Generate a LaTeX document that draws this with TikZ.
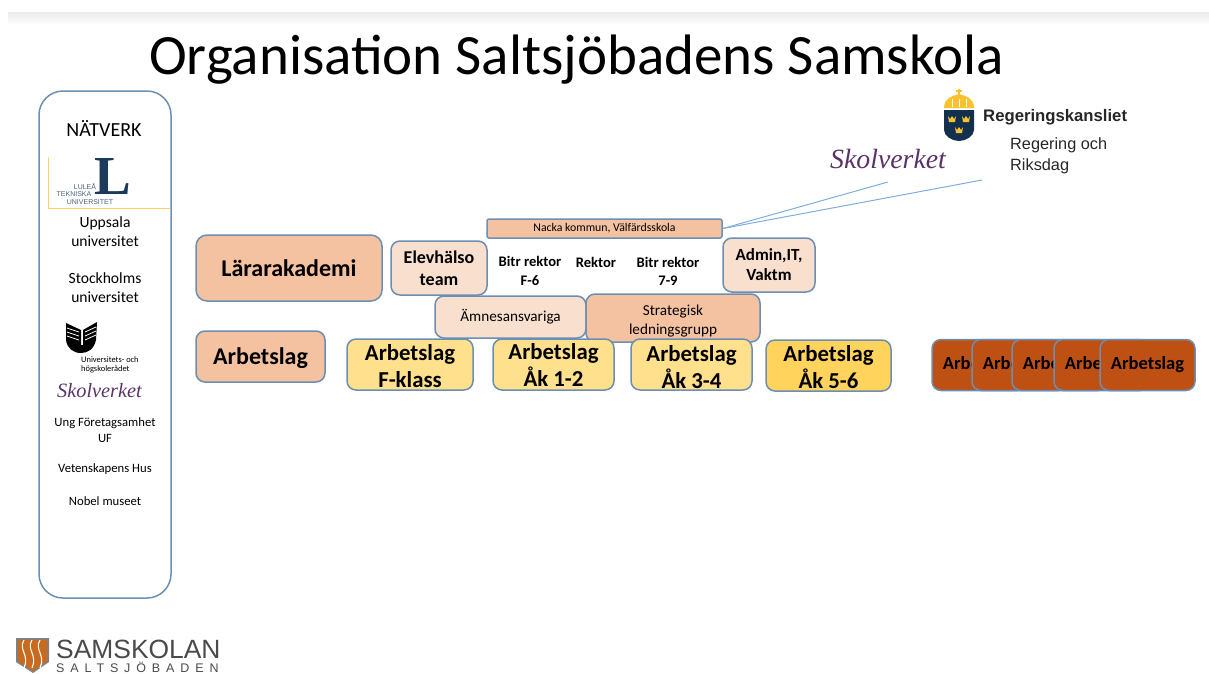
\documentclass[tikz,border=0pt]{standalone}
\usepackage{fontspec}
\setmainfont{Carlito}
\newfontfamily\logofont{Liberation Sans}
\newfontfamily\skolfont{Liberation Serif}
\usetikzlibrary{positioning}
\newcommand{\drop}[1]{\rule{0pt}{#1pt}}
\definecolor{edgeblue}{HTML}{6B8FB4}
\definecolor{lineblue}{HTML}{7FAEDC}
\definecolor{peach}{HTML}{F4C2A1}
\definecolor{lightpeach}{HTML}{F9DFCE}
\definecolor{paleyellow}{HTML}{FFE08C}
\definecolor{deepyellow}{HTML}{FFD35C}
\definecolor{rust}{HTML}{BE5014}
\definecolor{skolpurple}{HTML}{5A3268}
\definecolor{ltublue}{HTML}{1B3A5C}
\definecolor{crown}{HTML}{F9C22E}
\definecolor{shieldblue}{HTML}{14304F}
\definecolor{samorange}{HTML}{C96A1E}
\definecolor{samgray}{HTML}{4A4A4A}
\tikzset{
  box/.style={draw=edgeblue,line width=1.5pt,rounded corners=9pt,align=center,inner sep=0pt},
  huge/.style={font=\fontsize{24}{27}\selectfont\bfseries},
  big/.style={font=\fontsize{22.8}{27}\selectfont\bfseries},
  lesser/.style={font=\fontsize{18}{22}\selectfont\bfseries},
  small/.style={align=center,inner sep=0pt,font=\fontsize{14.6}{18.5}\selectfont\bfseries},
  plain/.style={font=\fontsize{15.2}{19}\selectfont},
  listing/.style={align=center,inner sep=0pt,font=\fontsize{15.6}{19}\selectfont},
  tiny/.style={align=center,inner sep=0pt,font=\fontsize{12.7}{15.5}\selectfont},
  ltuword/.style={inner sep=0pt,font=\fontsize{7}{8}\selectfont\logofont,text=ltublue!80},
  link/.style={draw=lineblue,line width=1pt},
}
\begin{document}
\begin{tikzpicture}[x=1pt,y=-1pt]
\useasboundingbox (0,0) rectangle (1209,673);
\shade[top color=black!8,bottom color=white] (8,12) rectangle (1209,25);

\node[inner sep=0pt,font=\fontsize{57}{57}\selectfont] (title) at (576.5,60) {Organisation Saltsjöbadens Samskola};

% natverk column
\node[box,rounded corners=24pt,minimum width=132pt,minimum height=507pt] (natverk) at (105,344.5) {};
\draw[draw=deepyellow,line width=0.8pt] (48,157) -- (48,208) -- (170,208);
\node[listing,font=\fontsize{20}{22}\selectfont] (rubrik) at (104,128.5) {NÄTVERK};
\node[inner sep=0pt,font=\fontsize{55}{55}\selectfont\skolfont\bfseries,text=ltublue] (ltu) at (113,176) {L};
\node[ltuword] (ltua) at (85,186) {LULEÅ};
\node[ltuword] (ltub) at (74,194) {TEKNISKA};
\node[ltuword] (ltuc) at (90,202) {UNIVERSITET};
\node[listing] (uppsala) at (105,232) {Uppsala\\universitet};
\node[listing] (stockholm) at (105,288) {Stockholms\\universitet};
\fill[black] (66,323) -- (81,330) -- (81,345) -- (83,345) -- (83,330) -- (97,322) -- (96,340) .. controls (94,349) and (88,353) .. (81,353) .. controls (73,353) and (67,348) .. (66,340) -- cycle;
\foreach \ypos in {328,332,336}{
  \draw[white,line width=0.8pt] (67,\ypos) -- (79,\ypos+4);
  \draw[white,line width=0.8pt] (96,\ypos-1) -- (85,\ypos+4);
}
\node[inner sep=0pt,anchor=west,align=left,font=\fontsize{8.4}{8.5}\selectfont] (uhr) at (81,365) {Universitets- och\\högskolerådet};
\node[inner sep=0pt,text=skolpurple,font=\fontsize{20.3}{21}\selectfont\skolfont\itshape] (skolverketa) at (99.5,391) {Skolverket};
\node[tiny] (ungf) at (105,430) {Ung Företagsamhet\\UF};
\node[tiny] (vethus) at (105,469) {Vetenskapens Hus};
\node[tiny] (nobel) at (105,501) {Nobel museet};

% samskolan logo
\fill[samgray!70] (16,638) -- (49,638) -- (49,662) -- (33,673) -- (16,662) -- cycle;
\fill[samorange] (18,640) -- (47,640) -- (47,661) -- (33,671) -- (18,661) -- cycle;
\foreach \xpos in {24,32,40}
  \draw[white,line width=1.1pt] (\xpos,640) .. controls (\xpos-6,650) and (\xpos+6,655) .. (\xpos,668);
\node[inner sep=0pt,text=samgray,anchor=west,font=\fontsize{26.4}{27}\selectfont\logofont] (samskolan) at (56,649) {SAMSKOLAN};
\node[inner sep=0pt,text=samgray,anchor=west,font=\fontsize{12.5}{13}\selectfont\logofont\addfontfeature{LetterSpace=47}] (saltsjo) at (56,667) {SALTSJÖBADEN};

% regering
\fill[crown] (944,108) .. controls (944,98) and (952,96) .. (959,94) .. controls (966,96) and (974,98) .. (974,108) -- cycle;
\draw[crown,line width=1.5pt] (959,89) -- (959,95) (956,91) -- (962,91);
\foreach \xpos in {952,959,966}
  \draw[white,line width=0.6pt] (\xpos,99) -- (\xpos,107);
\fill[shieldblue] (944,110) -- (974,110) -- (974,130) .. controls (974,136) and (966,141) .. (959,141) .. controls (952,141) and (944,136) .. (944,130) -- cycle;
\foreach \xpos/\ypos in {952/119,966/119,959/130}
  \fill[crown] (\xpos-4,\ypos-3) -- (\xpos-2,\ypos) -- (\xpos,\ypos-3) -- (\xpos+2,\ypos) -- (\xpos+4,\ypos-3) -- (\xpos+3,\ypos+3) -- (\xpos-3,\ypos+3) -- cycle;
\node[inner sep=0pt,anchor=west,font=\fontsize{16.7}{18}\selectfont\logofont\bfseries,text=black!85] (kansli) at (983,117) {Regeringskansliet};
\node[inner sep=0pt,anchor=west,align=left,font=\fontsize{16.3}{21}\selectfont\logofont,text=black!85] (regering) at (1010,156) {Regering och\\Riksdag};
\node[inner sep=0pt,text=skolpurple,font=\fontsize{27.8}{29}\selectfont\skolfont\itshape] (skolverketb) at (888,159) {Skolverket};
\coordinate (skolend) at (888,182);
\coordinate (regend) at (982,180);

% ledning
\node[box,fill=peach,rounded corners=2pt,minimum width=235pt,minimum height=19pt,font=\fontsize{11.8}{13}\selectfont] (nacka) at (604.5,228.5) {Nacka kommun, Välfärdsskola};
\path[link] (nacka.east) -- (skolend);
\path[link] (nacka.east) -- (regend);
\node[box,huge,fill=peach,rounded corners=11pt,minimum width=186pt,minimum height=66pt] (akademi) at (289,268) {Lärarakademi};
\node[box,huge,fill=peach,minimum width=129pt,minimum height=51pt,text height=21pt] (arbetslag) at (260.5,356.5) {Arbetslag};
\node[box,lesser,fill=lightpeach,minimum width=96pt,minimum height=54pt] (elev) at (439,268) {Elevhälso\\team};
\node[box,fill=lightpeach,minimum width=92pt,minimum height=54pt,font=\fontsize{17}{20}\selectfont\bfseries] (admin) at (769,265) {Admin,IT,\\Vaktm};
\node[small] (bitrf) at (530,271) {Bitr rektor\\F-6};
\node[small] (rektor) at (596,262) {Rektor};
\node[small] (bitrs) at (668,271.5) {Bitr rektor\\7-9};
\node[box,plain,fill=lightpeach,minimum width=151pt,minimum height=42pt] (amnes) at (510.5,317) {Ämnesansvariga};
\node[box,plain,fill=peach,minimum width=174pt,minimum height=48pt] (strategi) at (673,318) {\drop{17}Strategisk\\ledningsgrupp};

% arbetslag
\node[box,big,fill=paleyellow,minimum width=126pt,minimum height=51pt] (fklass) at (410,364.5) {\drop{20}Arbetslag\\F-klass};
\node[box,big,fill=paleyellow,minimum width=121pt,minimum height=51pt] (ak12) at (553.5,364.5) {Arbetslag\\Åk 1-2};
\node[box,big,fill=paleyellow,minimum width=121pt,minimum height=51pt] (ak34) at (691.5,364.5) {\drop{21}Arbetslag\\Åk 3-4};
\node[box,big,fill=deepyellow,minimum width=125pt,minimum height=51pt] (ak56) at (828.5,365.5) {\drop{20}Arbetslag\\Åk 5-6};
\foreach \xpos/\nodeid in {979.5/ra,1019.5/rb,1059.5/rc,1101.5/rd,1147.5/re}
  \node[box,fill=rust,minimum width=95pt,minimum height=51pt,font=\fontsize{18.5}{20}\selectfont\bfseries] (\nodeid) at (\xpos,365) {Arbetslag};
\end{tikzpicture}
\end{document}
